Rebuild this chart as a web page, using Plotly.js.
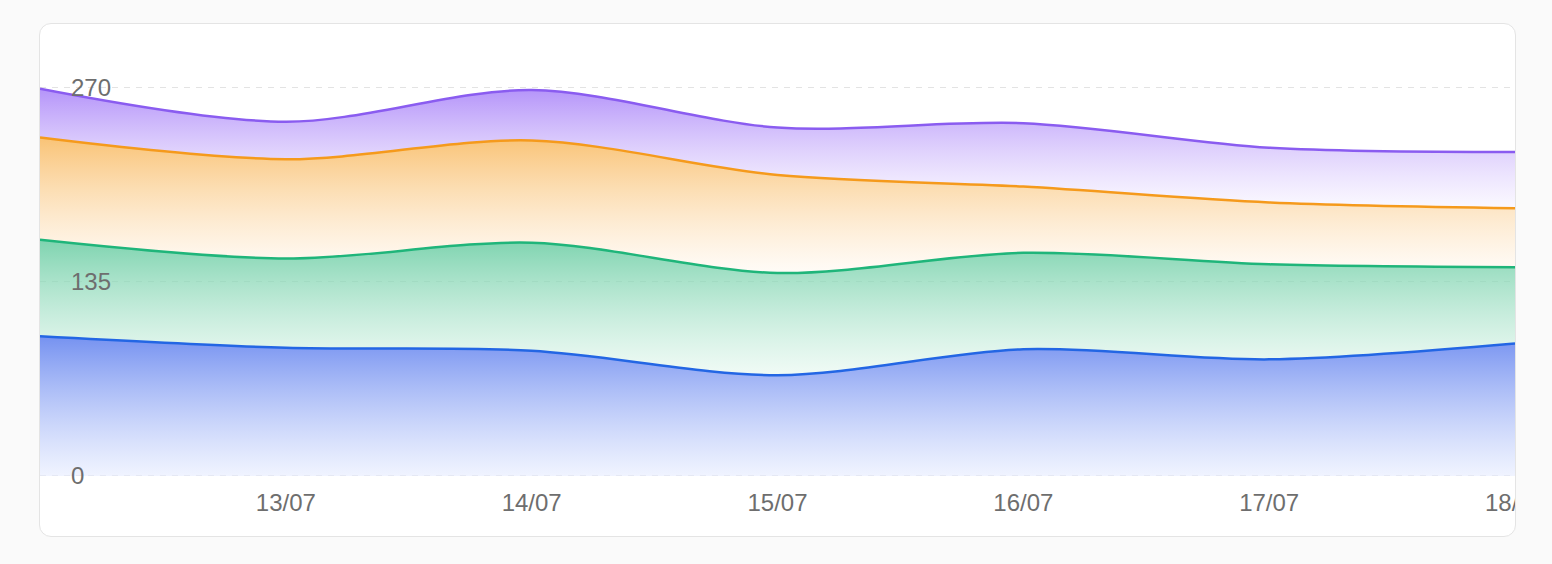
<!DOCTYPE html>
<html>
<head>
<meta charset="utf-8">
<script src="https://cdn.plot.ly/plotly-3.0.1.min.js"></script>
<style>
  html, body { margin: 0; padding: 0; background: #fafafa; width: 1552px; height: 564px; overflow: hidden; }
  #card { position: absolute; left: 39px; top: 23px; width: 1477px; height: 514px; box-sizing: border-box;
          border: 1px solid #e4e4e4; border-radius: 12px; background: #ffffff; overflow: hidden; }
  #chart { width: 1475px; height: 512px; }
</style>
</head>
<body>
<div id="card"><div id="chart"></div></div>
<script>
const dates = ['12/07', '13/07', '14/07', '15/07', '16/07', '17/07', '18/07'];
const tickDates = ['13/07', '14/07', '15/07', '16/07', '17/07', '18/07'];
const yTicks = [0, 135, 270];
const blueValues = [97, 89, 87, 70, 88, 81, 92];
const greenValues = [67, 62, 75, 71, 67, 66, 53];
const orangeValues = [71, 69, 71, 68, 46, 43, 41];
const purpleValues = [34, 26, 35, 33, 44, 38, 39];

function series(name, values, line, top, bottom) {
  return {
    type: 'scatter', mode: 'lines', name: name,
    x: dates, y: values, stackgroup: 'one',
    line: { color: line, width: 2.5, shape: 'spline', smoothing: 0.9 },
    fillgradient: { type: 'vertical', colorscale: [[0, bottom], [1, top]] },
    hoverinfo: 'x+y'
  };
}

const data = [
  series('Blue', blueValues, '#2366e4', 'rgba(95,128,238,0.86)', 'rgba(230,236,255,0.6)'),
  series('Green', greenValues, '#1fb57a', 'rgba(98,202,158,0.82)', 'rgba(225,246,236,0.5)'),
  series('Orange', orangeValues, '#f59a1c', 'rgba(248,182,88,0.82)', 'rgba(255,248,240,0.5)'),
  series('Purple', purpleValues, '#8a5cf0', 'rgba(164,124,248,0.82)', 'rgba(246,242,255,0.5)')
];

const layout = {
  width: 1475, height: 512,
  margin: { l: 0, r: 0, t: 20, b: 59 },
  paper_bgcolor: 'rgba(0,0,0,0)',
  plot_bgcolor: 'rgba(0,0,0,0)',
  showlegend: false,
  font: { family: '"Liberation Sans", Arial, sans-serif', size: 24, color: '#6e6e6e' },
  xaxis: {
    type: 'category', range: [0, 6],
    tickmode: 'array', tickvals: tickDates, ticktext: tickDates,
    showgrid: false, zeroline: false, showline: false, ticks: '',
    ticklabelstandoff: 9,
    tickfont: { size: 24, color: '#6e6e6e' }
  },
  yaxis: {
    range: [-0.7, 300],
    tickmode: 'array', tickvals: yTicks,
    showgrid: true, gridcolor: '#e3e3e3', griddash: '6px,6px', gridwidth: 1,
    zeroline: false, showline: false, ticks: '',
    ticklabelposition: 'inside', ticklabelstandoff: 28, ticklabeloverflow: 'allow',
    tickfont: { size: 24, color: '#6e6e6e' }
  }
};

Plotly.newPlot('chart', data, layout, { displayModeBar: false, staticPlot: true });
</script>
</body>
</html>
